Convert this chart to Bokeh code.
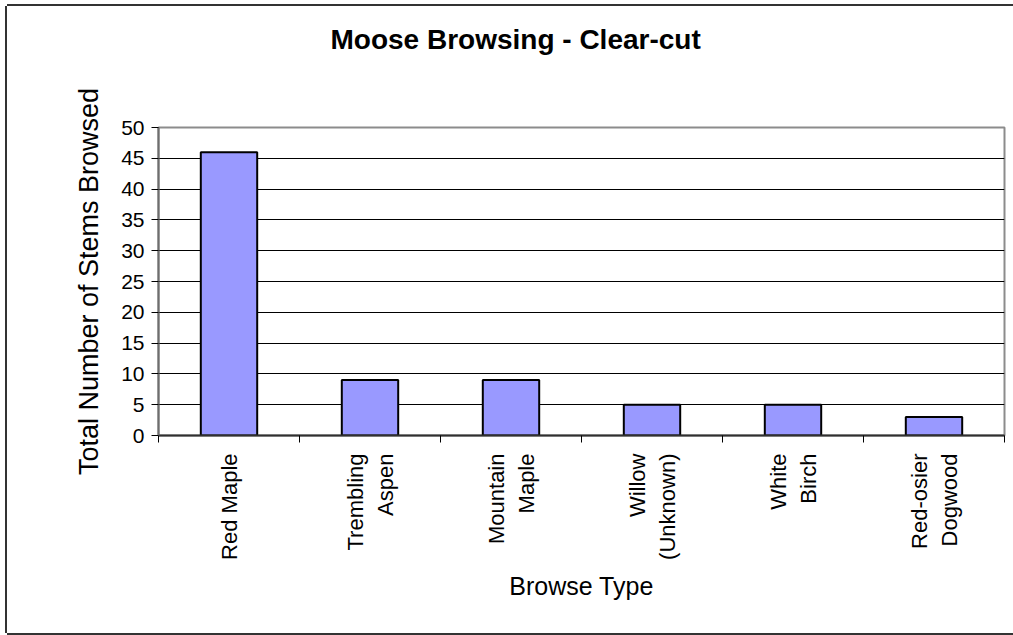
from math import pi

from bokeh.embed import file_html
from bokeh.models import ColumnDataSource, FixedTicker, Range1d, Title
from bokeh.plotting import figure
from bokeh.resources import INLINE

# ---- data -------------------------------------------------------------
browse_types = ["Red Maple", "Trembling Aspen", "Mountain Maple",
                "Willow (Unknown)", "White Birch", "Red-osier Dogwood"]
browse_labels = ["Red Maple", "Trembling\nAspen", "Mountain\nMaple",
                 "Willow\n(Unknown)", "White\nBirch", "Red-osier\nDogwood"]
stems_browsed = [46, 9, 9, 5, 5, 3]
y_ticks = [0, 5, 10, 15, 20, 25, 30, 35, 40, 45, 50]

FONT = "Liberation Sans"

n = len(browse_types)
slot_centre = [i + 0.5 for i in range(n)]   # one unit-wide slot per browse type
slot_edges = list(range(n + 1))

source = ColumnDataSource(dict(kind=browse_types, xc=slot_centre, stems=stems_browsed))

# ---- figure -----------------------------------------------------------
p = figure(width=1006, height=627, x_range=Range1d(0, n),
           y_range=Range1d(0, 50), title=None,
           output_backend="svg", toolbar_location=None,
           min_border_left=151, min_border_right=9,
           min_border_top=121, min_border_bottom=198)
p.margin = (6, 0, 0, 7)
# dark rule along the left, top and bottom of the chart area
p.styles = {"box-shadow": "-2px 0 0 0 #333333, 0 -2px 0 0 #333333, 0 2px 0 0 #333333"}
p.background_fill_color = "white"
p.border_fill_color = "white"
p.outline_line_color = "#8c8c8c"
p.outline_line_width = 2

# blank band between the plot area and the heading
p.add_layout(Title(text=" ", text_font=FONT, text_font_size="28px",
                   standoff=21), "above")
# heading
p.add_layout(Title(text="Moose Browsing - Clear-cut", text_font=FONT,
                   text_font_size="28px", text_font_style="bold",
                   text_color="black", align="left", vertical_align="top",
                   offset=172, standoff=34), "above")

p.vbar(x="xc", top="stems", width=0.4, source=source,
       fill_color="#9999ff", line_color="black", line_width=2)

# y axis
yax = p.yaxis[0]
yax.ticker = FixedTicker(ticks=y_ticks)
yax.axis_line_color = "#6e6e6e"
yax.axis_line_width = 2
yax.major_tick_in = 0
yax.major_tick_out = 7
yax.major_tick_line_color = "black"
yax.minor_tick_line_color = None
yax.major_label_standoff = 7
yax.major_label_text_font = FONT
yax.major_label_text_font_size = "21px"
yax.major_label_text_color = "black"
yax.axis_label = "Total Number of Stems Browsed"
yax.axis_label_text_font = FONT
yax.axis_label_text_font_size = "27px"
yax.axis_label_text_font_style = "normal"
yax.axis_label_text_color = "black"
yax.axis_label_standoff = 14

p.ygrid.grid_line_color = "black"
p.ygrid.grid_line_width = 1
p.xgrid.visible = False

# x axis: names at slot centres, short ticks at the slot boundaries
xax = p.xaxis[0]
xax.ticker = FixedTicker(ticks=slot_centre, minor_ticks=slot_edges)
xax.major_label_overrides = dict(zip(slot_centre, browse_labels))
xax.major_label_orientation = pi / 2
xax.major_label_text_font = FONT
xax.major_label_text_font_size = "22px"
xax.major_label_text_color = "black"
xax.major_label_text_line_height = 1.2
xax.major_label_standoff = 11
xax.axis_line_color = "#303030"
xax.axis_line_width = 2
xax.major_tick_line_color = None
xax.major_tick_in = 0
xax.major_tick_out = 0
xax.minor_tick_line_color = "black"
xax.minor_tick_in = 0
xax.minor_tick_out = 7
xax.axis_label = "Browse Type"
xax.axis_label_text_font = FONT
xax.axis_label_text_font_size = "25px"
xax.axis_label_text_font_style = "normal"
xax.axis_label_text_color = "black"
xax.axis_label_standoff = 9

open("out.html", "w").write(file_html(p, INLINE))
